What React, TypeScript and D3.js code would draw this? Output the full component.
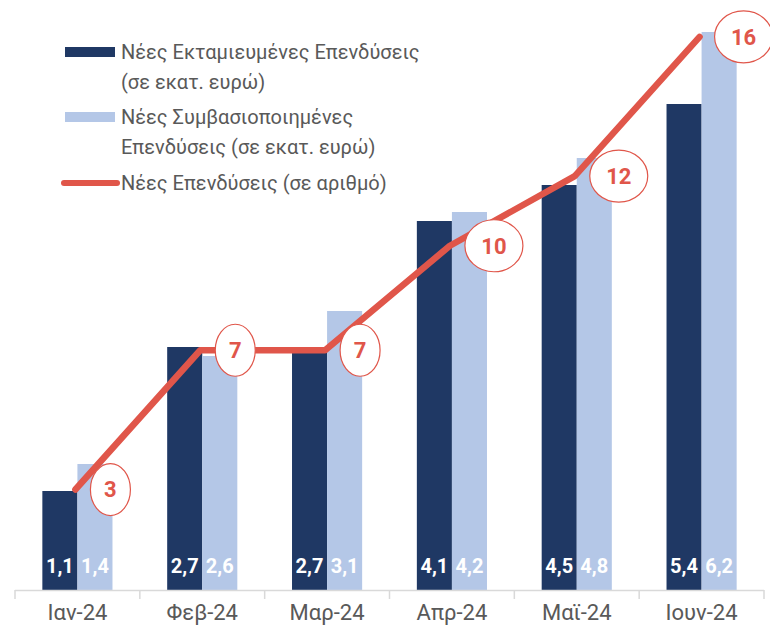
import React, { useRef, useEffect } from "react";
import { select, scaleBand, scaleLinear } from "d3";

const months = ["Ιαν-24", "Φεβ-24", "Μαρ-24", "Απρ-24", "Μαϊ-24", "Ιουν-24"];
const disbursed = [1.1, 2.7, 2.7, 4.1, 4.5, 5.4];
const contracted = [1.4, 2.6, 3.1, 4.2, 4.8, 6.2];
const investCount = [3, 7, 7, 10, 12, 16];
const legendLabels = [
  ["Νέες Εκταμιευμένες Επενδύσεις", "(σε εκατ. ευρώ)"],
  ["Νέες Συμβασιοποιημένες", "Επενδύσεις (σε εκατ. ευρώ)"],
  ["Νέες Επενδύσεις (σε αριθμό)"],
];

const DARK = "#1F3864";
const LIGHT = "#B4C7E7";
const RED = "#E0564A";
const GREY = "#595959";
const FONT = "Roboto, 'Noto Sans', sans-serif";

function App() {
  const svgRef = useRef(null);

  useEffect(() => {
    const svg = select(svgRef.current);
    svg.selectAll("*").remove();

    const x = scaleBand().domain(months).range([15, 764]);
    const inner = scaleBand()
      .domain(["d", "c"])
      .range([0, x.bandwidth()])
      .paddingOuter(0.78);
    const y = scaleLinear().domain([0, 6.2]).range([590, 32]);
    const y2 = scaleLinear().domain([0, 17]).range([594, 2]);

    const rows = months.map((m, i) => ({
      m,
      d: disbursed[i],
      c: contracted[i],
      n: investCount[i],
    }));

    // bars
    const g = svg.append("g");
    g.selectAll(".bar-d")
      .data(rows)
      .join("rect")
      .attr("x", (r) => x(r.m) + inner("d"))
      .attr("y", (r) => y(r.d))
      .attr("width", inner.bandwidth())
      .attr("height", (r) => y(0) - y(r.d))
      .attr("fill", DARK);
    g.selectAll(".bar-c")
      .data(rows)
      .join("rect")
      .attr("x", (r) => x(r.m) + inner("c"))
      .attr("y", (r) => y(r.c))
      .attr("width", inner.bandwidth())
      .attr("height", (r) => y(0) - y(r.c))
      .attr("fill", LIGHT);

    // value labels at bar bottoms
    const fmt = (v) => v.toFixed(1).replace(".", ",");
    ["d", "c"].forEach((k) => {
      g.selectAll(".val-" + k)
        .data(rows)
        .join("text")
        .attr("x", (r) => x(r.m) + inner(k) + inner.bandwidth() / 2)
        .attr("y", 573)
        .attr("text-anchor", "middle")
        .attr("font-family", FONT)
        .attr("font-weight", "bold")
        .attr("font-size", 20)
        .attr("fill", "#fff")
        .text((r) => fmt(r[k]));
    });

    // axis
    svg.append("line")
      .attr("x1", 15).attr("x2", 764)
      .attr("y1", 590.5).attr("y2", 590.5)
      .attr("stroke", "#D9D9D9").attr("stroke-width", 1.5);
    const edges = months.map((m) => x(m)).concat([x.range()[1]]);
    svg.selectAll(".tick")
      .data(edges)
      .join("line")
      .attr("x1", (d) => d).attr("x2", (d) => d)
      .attr("y1", 590).attr("y2", 599)
      .attr("stroke", "#D9D9D9").attr("stroke-width", 1.5);
    svg.selectAll(".tl")
      .data(months)
      .join("text")
      .attr("x", (m) => x(m) + x.bandwidth() / 2)
      .attr("y", 620)
      .attr("text-anchor", "middle")
      .attr("font-family", FONT)
      .attr("font-size", 22)
      .attr("fill", GREY)
      .text((m) => m);

    // line
    const cx = (r) => x(r.m) + x.bandwidth() / 2 - 2;
    svg.append("polyline")
      .attr("points", rows.map((r) => `${cx(r)},${y2(r.n)}`).join(" "))
      .attr("fill", "none")
      .attr("stroke", RED)
      .attr("stroke-width", 6.5)
      .attr("stroke-linecap", "round")
      .attr("stroke-linejoin", "round");

    // bubble labels
    const lab = svg.selectAll(".bub").data(rows).join("g")
      .attr("transform", (r) => {
        const rx = r.n >= 10 ? 29 : 20;
        return `translate(${cx(r) + 15 + rx},${y2(r.n)})`;
      });
    lab.append("ellipse")
      .attr("rx", (r) => (r.n >= 10 ? 29 : 20))
      .attr("ry", 26)
      .attr("fill", "#fff")
      .attr("stroke", RED)
      .attr("stroke-width", 1.2);
    lab.append("text")
      .attr("text-anchor", "middle")
      .attr("dy", "0.36em")
      .attr("font-family", FONT)
      .attr("font-weight", "bold")
      .attr("font-size", 22)
      .attr("fill", RED)
      .text((r) => r.n);

    // legend
    const leg = svg.append("g").attr("font-family", FONT).attr("font-size", 20).attr("fill", GREY);
    const legY = [52, 117, 183];
    leg.append("rect").attr("x", 65).attr("y", legY[0] - 5).attr("width", 50).attr("height", 10).attr("fill", DARK);
    leg.append("rect").attr("x", 65).attr("y", legY[1] - 5).attr("width", 50).attr("height", 10).attr("fill", LIGHT);
    leg.append("line").attr("x1", 64).attr("x2", 117).attr("y1", legY[2]).attr("y2", legY[2])
      .attr("stroke", RED).attr("stroke-width", 6).attr("stroke-linecap", "round");
    legendLabels.forEach((lines, i) => {
      lines.forEach((t, j) => {
        leg.append("text")
          .attr("x", 121)
          .attr("y", legY[i] + j * 30)
          .attr("dy", "0.35em")
          .text(t);
      });
    });
  }, []);

  return (
    <svg
      ref={svgRef}
      width={770}
      height={635}
      style={{ position: "absolute", left: 0, top: 0, background: "#fff" }}
    />
  );
}

export default App;
